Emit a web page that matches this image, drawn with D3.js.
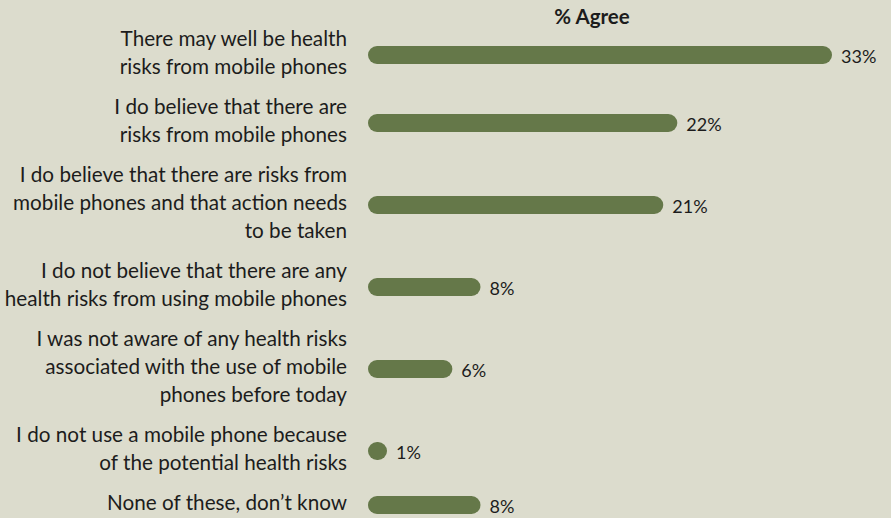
<!DOCTYPE html>
<html>
<head>
<meta charset="utf-8">
<script src="https://cdn.jsdelivr.net/npm/d3@7"></script>
<style>
  html, body { margin: 0; padding: 0; background: #dcdccd; }
  svg { display: block; }
  text { font-family: "Lato", "Noto Sans", sans-serif; fill: #1c1c1c; }
</style>
</head>
<body>
<svg id="chart" width="891" height="518"></svg>
<script>
// Survey statements (one entry per line of the wrapped label)
const statements = [
  ["There may well be health", "risks from mobile phones"],
  ["I do believe that there are", "risks from mobile phones"],
  ["I do believe that there are risks from", "mobile phones and that action needs", "to be taken"],
  ["I do not believe that there are any", "health risks from using mobile phones"],
  ["I was not aware of any health risks", "associated with the use of mobile", "phones before today"],
  ["I do not use a mobile phone because", "of the potential health risks"],
  ["None of these, don\u2019t know"]
];
// Share of respondents agreeing, in percent
const agree = [33, 22, 21, 8, 6, 1, 8];
const seriesTitle = "% Agree";

const svg = d3.select("#chart");
const fontSize = 20.7;
const lineHeight = 28;
const rowGap = 12;
const firstBaseline = 46;
const labelRight = 347;
const barLeft = 368;
const barH = 18;

const x = d3.scaleLinear().domain([0, 33]).range([0, 464]);

// Stack the rows according to how many label lines each one needs
let baseline = firstBaseline;
const rows = statements.map((lines, i) => {
  const first = baseline;
  baseline += lines.length * lineHeight + rowGap;
  const mid = first + (lines.length - 1) * lineHeight / 2;
  return { lines, value: agree[i], first, cy: mid - 5 };
});

svg.append("text")
  .attr("x", 592)
  .attr("y", 24)
  .attr("text-anchor", "middle")
  .style("font-size", "20.5px")
  .style("font-weight", "bold")
  .text(seriesTitle);

const g = svg.selectAll("g.row").data(rows).join("g").attr("class", "row");

g.append("text")
  .attr("text-anchor", "end")
  .style("font-size", fontSize + "px")
  .selectAll("tspan")
  .data(d => d.lines.map((t, j) => ({ t, y: d.first + j * lineHeight })))
  .join("tspan")
  .attr("x", labelRight)
  .attr("y", d => d.y)
  .text(d => d.t);

const barW = d => Math.max(x(d.value), barH + 1);

g.append("rect")
  .attr("x", barLeft)
  .attr("y", d => d.cy - barH / 2)
  .attr("width", barW)
  .attr("height", barH)
  .attr("rx", barH / 2)
  .attr("fill", "#657849");

g.append("text")
  .attr("x", d => barLeft + barW(d) + 9)
  .attr("y", d => d.cy + 7.5)
  .style("font-size", "18px")
  .text(d => d.value + "%");
</script>
</body>
</html>
